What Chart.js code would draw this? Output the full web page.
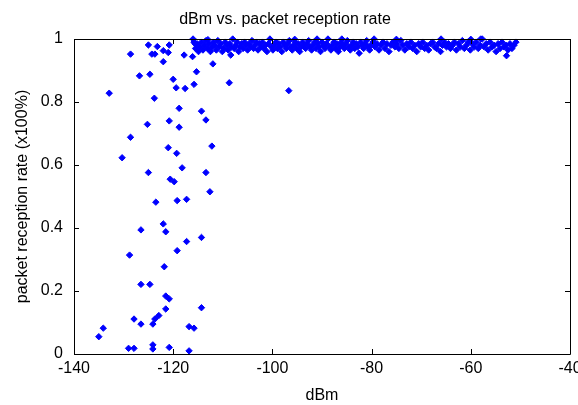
<!DOCTYPE html>
<html>
<head>
<meta charset="utf-8">
<script src="https://cdn.jsdelivr.net/npm/chart.js@4"></script>
<style>
  html, body { margin: 0; padding: 0; background: #fff; }
  canvas { display: block; }
</style>
</head>
<body>
<canvas id="chart" width="578" height="405"></canvas>
<script>
// tick labels
const xTicks = [-140, -120, -100, -80, -60, -40];
const yTicks = [0, 0.2, 0.4, 0.6, 0.8, 1];

// weak links, spread out between -135 and -112 dBm
const lowDbm = [
  -135.0, -134.1, -132.9, -130.3, -129.0, -128.8, -128.6, -128.6, -127.9, -127.9,
  -126.8, -126.5, -126.5, -126.5, -125.2, -125.0, -125.0, -124.7, -124.7, -124.3,
  -124.1, -124.1, -124.1, -123.8, -123.7, -123.7, -123.5, -123.2, -122.9, -122.0,
  -122.0, -122.0, -121.8, -121.5, -121.5, -121.5, -121.0, -121.0, -120.8, -120.8,
  -120.8, -120.8, -120.6, -120.0, -119.8, -119.4, -119.3, -119.2, -119.2, -118.8,
  -118.8, -118.2, -117.8, -117.6, -117.3, -117.3, -116.8, -116.8, -116.1, -115.8,
  -115.8, -115.3, -114.3, -114.3, -114.3, -113.4, -113.4, -112.6, -112.2, -112.0,
  -108.7, -108.4, -96.7, -52.8
];
const lowRate = [
  0.055, 0.082, 0.828, 0.623, 0.018, 0.314, 0.688, 0.952, 0.018, 0.111,
  0.883, 0.394, 0.221, 0.095, 0.729, 0.576, 0.981, 0.888, 0.221, 0.952,
  0.095, 0.029, 0.016, 0.812, 0.952, 0.111, 0.482, 0.976, 0.122, 0.963,
  0.928, 0.413, 0.277, 0.388, 0.184, 0.143, 0.957, 0.655, 0.981, 0.740,
  0.175, 0.021, 0.555, 0.872, 0.547, 0.845, 0.637, 0.487, 0.328, 0.780,
  0.720, 0.591, 0.949, 0.843, 0.491, 0.357, 0.087, 0.010, 0.944, 0.856,
  0.082, 0.896, 0.771, 0.370, 0.147, 0.743, 0.576, 0.515, 0.660, 0.921,
  0.861, 0.949, 0.836, 0.947
];

// strong links, the dense band near 1
const bandDbm = [
  -116.0, -115.8, -115.6, -115.5, -115.2, -114.9, -114.6, -114.3, -114.0, -113.7,
  -113.4, -113.1, -113.0, -112.8, -112.5, -112.2, -111.9, -111.6, -111.3, -111.0,
  -110.7, -110.4, -110.1, -109.8, -109.5, -109.2, -108.9, -108.6, -108.3, -108.0,
  -107.7, -107.4, -107.1, -106.8, -106.5, -106.2, -105.9, -105.6, -105.3, -105.0,
  -104.7, -104.4, -104.1, -103.8, -103.5, -103.2, -102.9, -102.6, -102.3, -102.0,
  -101.7, -101.4, -101.1, -100.8, -100.5, -100.2, -99.9, -99.6, -99.3, -99.0,
  -98.7, -98.4, -98.1, -97.8, -97.5, -97.2, -96.9, -96.6, -96.3, -96.0,
  -95.7, -95.5, -95.4, -95.1, -94.8, -94.5, -94.2, -93.9, -93.6, -93.3,
  -93.0, -92.7, -92.4, -92.1, -91.8, -91.5, -91.2, -91.0, -90.9, -90.6,
  -90.3, -90.0, -89.7, -89.4, -89.1, -88.8, -88.5, -88.2, -87.9, -87.6,
  -87.3, -87.0, -86.7, -86.4, -86.1, -86.0, -85.8, -85.5, -85.2, -84.9,
  -84.6, -84.3, -84.0, -83.7, -83.4, -83.1, -82.8, -82.5, -82.2, -81.9,
  -81.6, -81.3, -81.0, -80.7, -80.4, -80.1, -79.7, -79.5, -79.3, -78.9,
  -78.5, -78.1, -77.7, -77.3, -76.9, -76.5, -76.1, -75.7, -75.3, -75.0,
  -74.9, -74.5, -74.1, -73.7, -73.3, -72.9, -72.5, -72.1, -71.7, -71.3,
  -70.9, -70.5, -70.1, -69.7, -69.3, -68.9, -68.5, -68.1, -67.7, -67.3,
  -66.9, -66.5, -66.1, -66.0, -65.7, -65.3, -64.9, -64.5, -64.1, -63.7,
  -63.3, -62.9, -62.5, -62.1, -61.7, -61.3, -60.9, -60.5, -60.1, -60.0,
  -59.7, -59.3, -58.9, -58.5, -58.1, -58.0, -57.7, -57.3, -56.9, -56.5,
  -56.1, -55.7, -55.3, -54.9, -54.5, -54.1, -53.7, -53.3, -52.9, -52.5,
  -52.1, -51.7, -51.3, -50.9
];
const bandRate = [
  1.000, 0.990, 0.985, 0.970, 0.985, 0.960, 0.975, 0.990, 0.965, 0.980,
  0.995, 0.970, 0.998, 0.985, 0.960, 0.975, 0.990, 0.980, 0.965, 0.995,
  0.975, 0.985, 0.960, 0.970, 0.990, 0.980, 0.965, 0.985, 0.975, 1.000,
  0.970, 0.980, 0.990, 0.960, 0.975, 0.985, 0.970, 0.990, 0.980, 0.965,
  0.985, 0.975, 0.995, 0.970, 0.980, 0.990, 0.965, 0.985, 0.975, 0.990,
  0.970, 0.980, 0.960, 0.985, 1.000, 0.975, 0.965, 0.980, 0.990, 0.970,
  0.985, 0.975, 0.960, 0.990, 0.980, 0.970, 0.985, 0.995, 0.975, 0.965,
  0.980, 0.999, 0.990, 0.970, 0.985, 0.960, 0.975, 0.990, 0.980, 0.970,
  0.985, 0.995, 0.975, 0.965, 0.980, 0.990, 0.970, 1.000, 0.985, 0.975,
  0.960, 0.990, 0.980, 0.970, 0.985, 1.000, 0.975, 0.965, 0.980, 0.990,
  0.970, 0.985, 0.960, 0.975, 0.990, 1.000, 0.980, 0.970, 0.985, 0.995,
  0.975, 0.965, 0.980, 0.990, 0.970, 0.985, 0.975, 0.955, 0.990, 0.980,
  0.970, 0.985, 0.995, 0.975, 0.965, 0.980, 0.990, 1.000, 0.975, 0.985,
  0.965, 0.980, 0.990, 0.970, 0.985, 0.960, 0.980, 0.990, 0.975, 0.999,
  0.985, 0.970, 0.995, 0.980, 0.965, 0.985, 0.975, 0.990, 0.970, 0.980,
  0.960, 0.985, 0.975, 0.990, 0.970, 0.980, 0.965, 0.985, 0.990, 0.975,
  0.970, 0.985, 0.960, 1.000, 0.980, 0.990, 0.975, 0.985, 0.970, 0.980,
  0.990, 0.965, 0.985, 0.975, 0.995, 0.970, 0.980, 0.990, 0.965, 0.999,
  0.985, 0.975, 0.990, 0.970, 0.980, 1.000, 1.000, 0.975, 0.985, 0.965,
  0.990, 0.975, 0.980, 0.960, 0.985, 0.970, 0.990, 0.975, 0.980, 0.965,
  0.985, 0.970, 0.980, 0.990
];

const points = lowDbm.map((x, i) => ({ x, y: lowRate[i] }))
  .concat(bandDbm.map((x, i) => ({ x, y: bandRate[i] })));

const font = { family: '"Liberation Sans", Arial, sans-serif', size: 16, weight: 'normal' };

// matlab style box with inward ticks on all four sides
const boxTicks = {
  id: 'boxTicks',
  afterDatasetsDraw(chart) {
    const { ctx, chartArea: a, scales: { x, y } } = chart;
    ctx.save();
    ctx.strokeStyle = '#000';
    ctx.lineWidth = 1;
    ctx.beginPath();
    ctx.rect(Math.round(a.left) + 0.5, Math.round(a.top) + 0.5,
      Math.round(a.right - a.left), Math.round(a.bottom - a.top));
    xTicks.forEach(v => {
      const px = Math.round(x.getPixelForValue(v)) + 0.5;
      ctx.moveTo(px, a.bottom); ctx.lineTo(px, a.bottom - 5);
      ctx.moveTo(px, a.top); ctx.lineTo(px, a.top + 5);
    });
    yTicks.forEach(v => {
      const py = Math.round(y.getPixelForValue(v)) + 0.5;
      ctx.moveTo(a.left, py); ctx.lineTo(a.left + 5, py);
      ctx.moveTo(a.right, py); ctx.lineTo(a.right - 5, py);
    });
    ctx.stroke();
    ctx.restore();
  }
};

new Chart(document.getElementById('chart'), {
  type: 'scatter',
  data: {
    datasets: [{
      data: points,
      pointStyle: 'rectRot',
      radius: 3.2,
      backgroundColor: '#0000ff',
      borderColor: '#0000ff',
      borderWidth: 1,
      clip: false
    }]
  },
  options: {
    responsive: false,
    animation: false,
    layout: { padding: { left: 0, right: 8, top: 0, bottom: 0 } },
    plugins: {
      legend: { display: false },
      tooltip: { enabled: false },
      title: {
        display: true,
        text: 'dBm vs. packet reception rate',
        color: '#000',
        font: font,
        padding: { top: 10, bottom: 9.8 }
      }
    },
    scales: {
      x: {
        type: 'linear',
        min: -140,
        max: -40,
        afterBuildTicks: s => { s.ticks = xTicks.map(v => ({ value: v })); },
        grid: { display: false, drawTicks: false },
        border: { display: false },
        ticks: { color: '#000', font: font, padding: 5, maxRotation: 0, callback: v => String(v) },
        title: { display: true, text: 'dBm', color: '#000', font: font, padding: { top: 0, bottom: 0 } },
        afterFit: s => { s.height = 51; s.paddingLeft = 0; s.paddingRight = 0; }
      },
      y: {
        min: 0,
        max: 1,
        afterBuildTicks: s => { s.ticks = yTicks.map(v => ({ value: v })); },
        grid: { display: false, drawTicks: false },
        border: { display: false },
        ticks: { color: '#000', font: font, padding: 11, callback: v => String(v) },
        title: { display: true, text: 'packet reception rate (x100%)', color: '#000', font: font, padding: { top: 13, bottom: 0 } },
        afterFit: s => { s.width = 74; s.paddingTop = 0; s.paddingBottom = 0; }
      }
    }
  },
  plugins: [boxTicks]
});
</script>
</body>
</html>
